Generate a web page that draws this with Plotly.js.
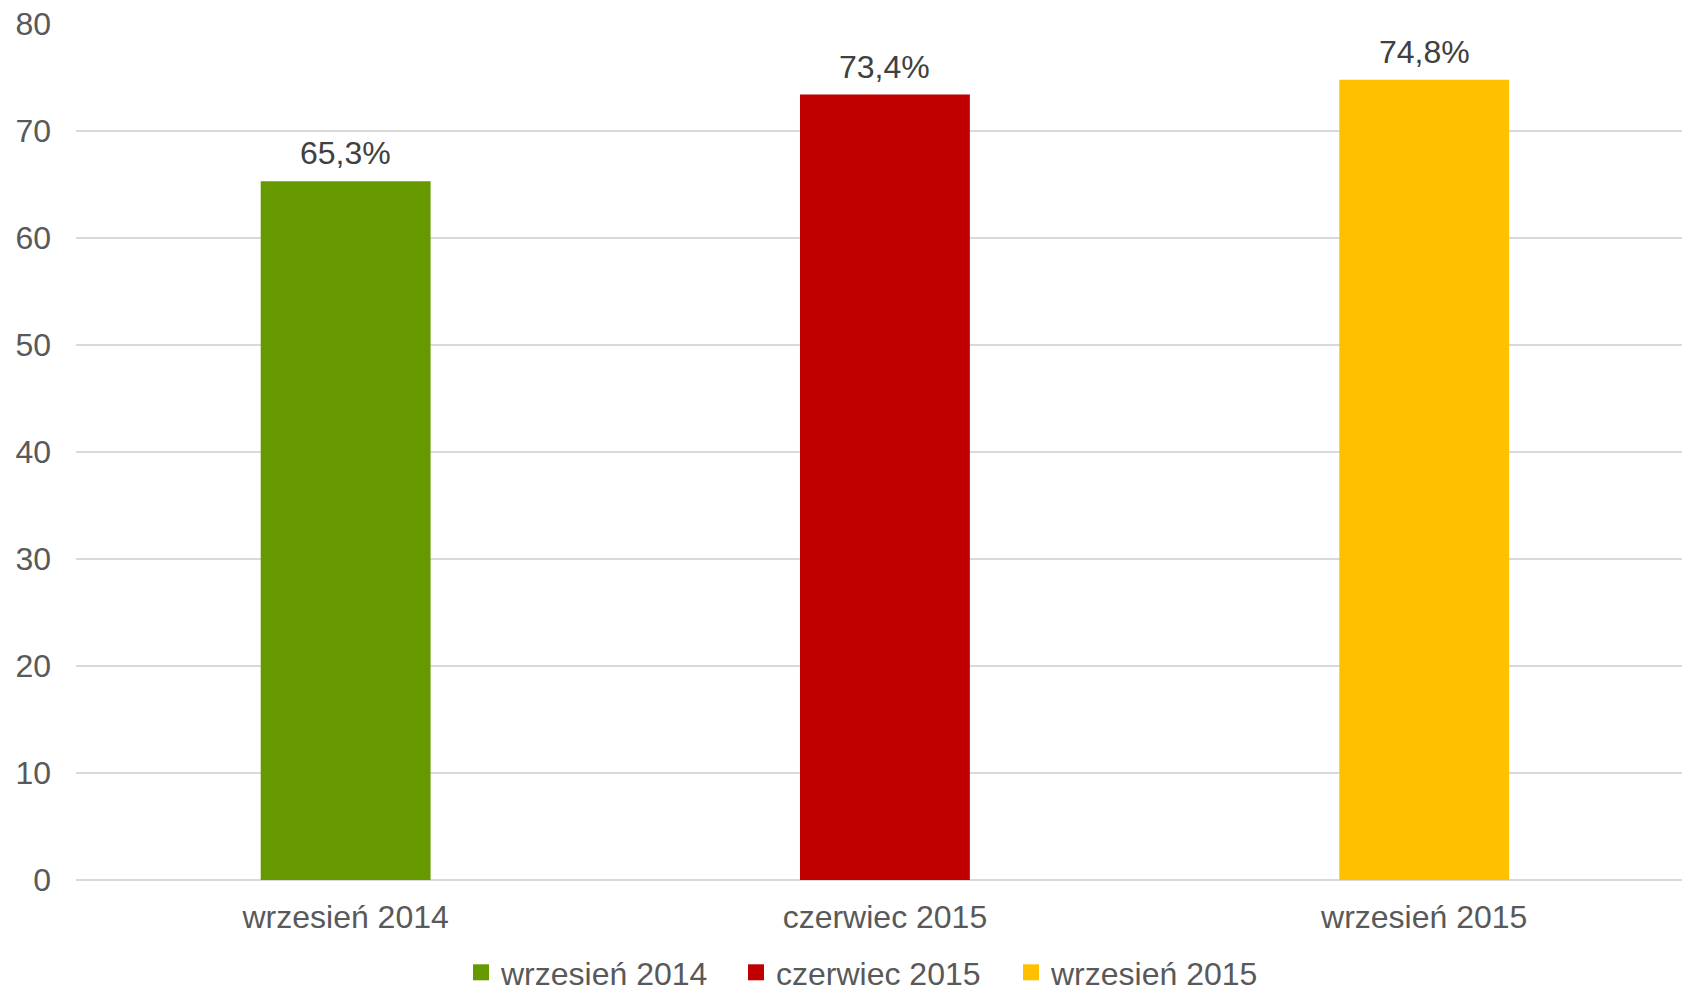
<!DOCTYPE html>
<html>
<head>
<meta charset="utf-8">
<script src="https://cdn.plot.ly/plotly-3.0.1.min.js"></script>
<style>html,body{margin:0;padding:0;background:#fff;}#chart{width:1682px;height:991px;}</style>
</head>
<body>
<div id="chart"></div>
<script>
const categories = ["wrzesień 2014", "czerwiec 2015", "wrzesień 2015"];
const values = [65.3, 73.4, 74.8];
const colors = ["#669900", "#C00000", "#FFC000"];
const yTicks = [0, 10, 20, 30, 40, 50, 60, 70, 80];

const FONT = "Liberation Sans, Arial, sans-serif";

const barTraces = categories.map((c, i) => ({
  type: "bar",
  name: c,
  x: [c],
  y: [values[i]],
  marker: {color: colors[i]},
  width: 0.315,
  showlegend: false,
  hoverinfo: "none"
}));

const legendTraces = categories.map((c, i) => ({
  type: "scatter",
  mode: "markers",
  name: c,
  x: [null],
  y: [null],
  marker: {symbol: "square", size: 16, color: colors[i]},
  showlegend: true,
  hoverinfo: "none"
}));

const annotations = categories.map((c, i) => ({
  x: c,
  y: values[i],
  xref: "x",
  yref: "y",
  text: values[i].toFixed(1).replace(".", ",") + "%",
  showarrow: false,
  yanchor: "bottom",
  yshift: 8,
  font: {family: FONT, size: 32, color: "#404040"}
}));

const layout = {
  width: 1682,
  height: 991,
  margin: {l: 76, r: 0, t: 24, b: 111},
  paper_bgcolor: "#fff",
  plot_bgcolor: "#fff",
  barmode: "overlay",
  font: {family: FONT, size: 32, color: "#595959"},
  annotations: annotations,
  xaxis: {
    type: "category",
    categoryarray: categories,
    range: [-0.5, 2.478],
    showgrid: false,
    showline: false,
    zeroline: false,
    ticks: "",
    ticklabelstandoff: 15,
    tickfont: {size: 32, color: "#595959"}
  },
  yaxis: {
    range: [0, 80],
    tickvals: yTicks,
    ticktext: yTicks.map(String),
    showgrid: true,
    gridcolor: "#d9d9d9",
    gridwidth: 1.3,
    zeroline: true,
    zerolinecolor: "#d9d9d9",
    zerolinewidth: 1.3,
    showline: false,
    ticks: "",
    ticklabelstandoff: 24,
    tickfont: {size: 32, color: "#595959"}
  },
  showlegend: true,
  legend: {
    orientation: "h",
    xref: "container",
    yref: "container",
    x: 461 / 1682,
    xanchor: "left",
    y: 1 - 945 / 991,
    yanchor: "top",
    font: {size: 32, color: "#595959"},
    entrywidth: 230,
    itemclick: false,
    itemdoubleclick: false
  }
};

Plotly.newPlot("chart", barTraces.concat(legendTraces), layout, {displayModeBar: false, staticPlot: true});
</script>
</body>
</html>
